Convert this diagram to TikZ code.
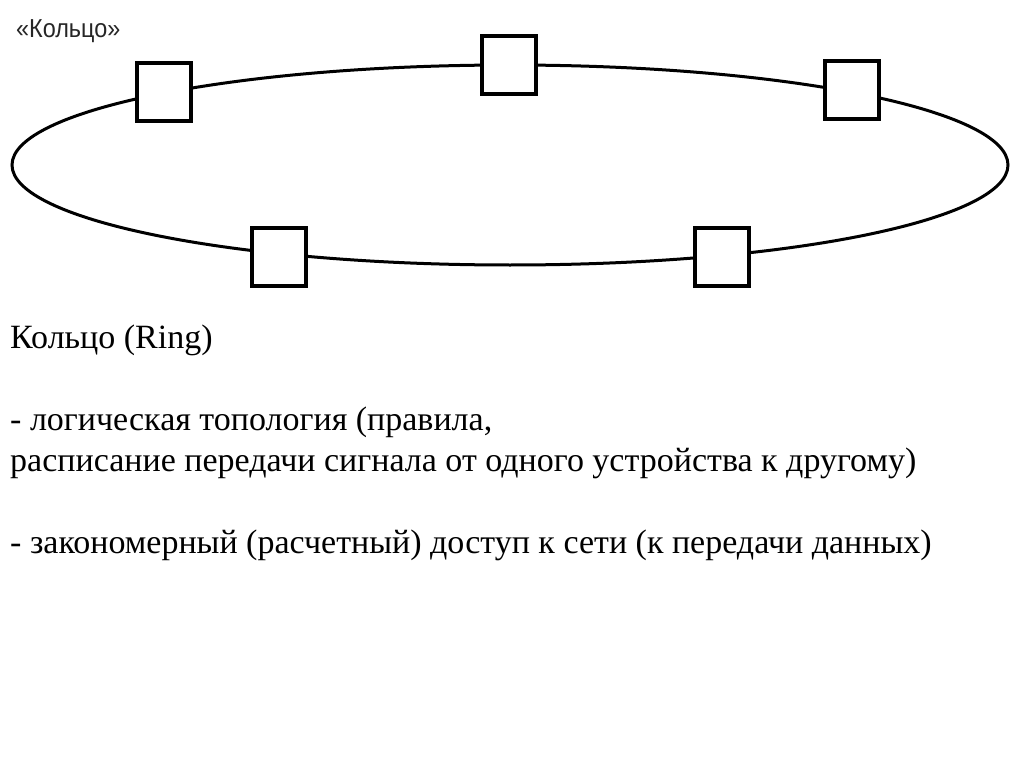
\documentclass[tikz,border=0pt]{standalone}
\usepackage{fontspec}
\setmainfont{Liberation Serif}
\newfontfamily\titlefont{Liberation Sans}
\begin{document}
\begin{tikzpicture}[x=1pt,y=-1pt,
  station/.style={draw=black,fill=white,line width=3.5pt,minimum width=54pt,minimum height=58pt,inner sep=0pt},
  ring/.style={draw=black,line width=3pt},
  bodytext/.style={anchor=base west,inner sep=0pt,font=\fontsize{34}{41}\selectfont,text=black},
  titletext/.style={anchor=base west,inner sep=0pt,font=\titlefont\fontsize{26}{30}\selectfont,text=black!85}
]
\useasboundingbox (0,0) rectangle (1024,767);
\draw[ring] (510,165) ellipse [x radius=498pt, y radius=100pt];
\node[station] (s1) at (164,92) {};
\node[station] (s2) at (509,65) {};
\node[station] (s3) at (852,90) {};
\node[station] (s4) at (279,257) {};
\node[station] (s5) at (722,257) {};
\node[titletext, xscale=0.9] (title) at (16,38) {«Кольцо»};
\node[bodytext] (l1) at (10,348) {Кольцо (Ring)};
\node[bodytext] (l2) at (10,430) {- логическая топология (правила,};
\node[bodytext] (l3) at (10,471) {расписание передачи сигнала от одного устройства к другому)};
\node[bodytext] (l4) at (10,553) {- закономерный (расчетный) доступ к сети (к передачи данных)};
\end{tikzpicture}
\end{document}
